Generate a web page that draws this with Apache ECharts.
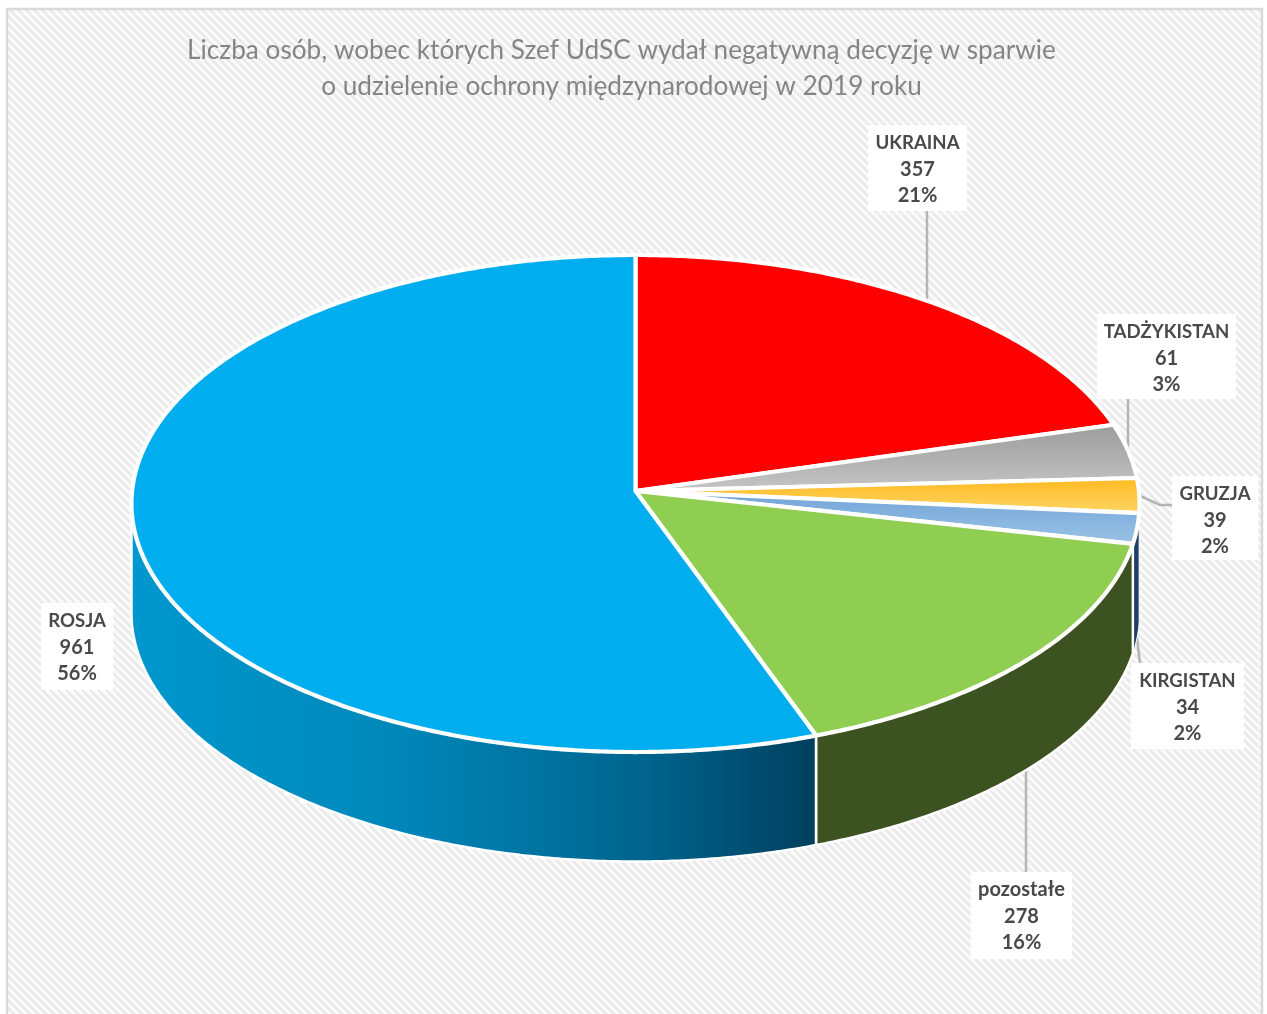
<!DOCTYPE html>
<html><head><meta charset="utf-8">
<style>html,body{margin:0;padding:0;background:#fff}#c{width:1267px;height:1014px}</style>
<script src="https://cdn.jsdelivr.net/npm/echarts@6/dist/echarts.min.js"></script>
</head><body><div id="c"></div>
<script>
// ---- data
const categories = ['UKRAINA','TADŻYKISTAN','GRUZJA','KIRGISTAN','pozostałe','ROSJA'];
const values     = [357, 61, 39, 34, 278, 961];
const percents   = ['21%','3%','2%','2%','16%','56%'];
const titleLines = ['Liczba osób, wobec których Szef UdSC wydał negatywną decyzję w sparwie',
                    'o udzielenie ochrony międzynarodowej w 2019 roku'];

// ---- styling / layout
const faceFills = [
  '#FF0000',
  ['#9B9B9B','#C6C6C6'],
  ['#FFB81C','#FFD768'],
  ['#6FA3D8','#9DC3E6'],
  '#8FCE50',
  '#00AEEF'
];
const wallFills = [null,null,null,'#1F3F66','#3C5220',
  {stops:[[0,'#0098CE'],[0.4,'#0086B8'],[0.75,'#00648D'],[1,'#003F5E']]}];
const labelBoxes = [[868,125,99,86],[1097,314,139,85],[1172,476,86,84],[1131,663,113,86],[971,872,101,87],[41,603,72,87]];
const leaders = [
  {x:927,path:[[927,211]]},
  {x:1128,path:[[1128,399]]},
  {path:[[1160,505],[1172,505]]},
  {onWall:true,path:[[1140,663]]},
  {x:1026,onWall:true,path:[[1026,872]]},
  null
];
const P = {cx:635.5, cy:491, a:247.9, b:503.4, k:0.0503, depth:109.5};

const total = values.reduce((s,v)=>s+v,0);
function rim(deg){
  const t=deg*Math.PI/180, u=Math.sin(t), v=Math.cos(t), w=1+P.k*v;
  return [P.cx+P.b*u/w, P.cy-P.a*v/w];
}
function arc(from,to){
  const n=Math.max(2,Math.ceil(Math.abs(to-from)*2)), pts=[];
  for(let i=0;i<=n;i++) pts.push(rim(from+(to-from)*i/n));
  return pts;
}
function paint(f){
  if(typeof f==='string') return f;
  if(Array.isArray(f)) return {type:'linear',x:0,y:0,x2:0,y2:1,colorStops:[{offset:0,color:f[0]},{offset:1,color:f[1]}]};
  return {type:'linear',x:0,y:0,x2:1,y2:0,colorStops:f.stops.map(s=>({offset:s[0],color:s[1]}))};
}
const tangentR = 90+Math.asin(P.k)*180/Math.PI, tangentL = 270-Math.asin(P.k)*180/Math.PI;

function renderItem(params,api){
  const i=params.dataIndex, val=api.value(0);
  let before=0; for(let j=0;j<i;j++) before+=values[j];
  const a0=before/total*360, a1=(before+val)/total*360, mid=(a0+a1)/2;
  const children=[];
  const L=leaders[i];
  if(L){
    const r=rim(mid);
    const start=[L.x!==undefined?L.x:r[0], r[1]+(L.onWall?P.depth:0)];
    children.push({type:'polyline',shape:{points:[start].concat(L.path)},
      style:{stroke:'#B4B4B4',lineWidth:2.5,fill:null},z2:1});
  }
  if(wallFills[i]){
    const from=Math.max(a0,tangentR), to=Math.min(a1,tangentL);
    const top=arc(from,to), bot=top.slice().reverse().map(p=>[p[0],p[1]+P.depth]);
    children.push({type:'polygon',shape:{points:top.concat(bot)},
      style:{fill:paint(wallFills[i]),stroke:'#fff',lineWidth:i===3?1:2.5,lineJoin:'round'},z2:2});
  }
  children.push({type:'polygon',shape:{points:[[P.cx,P.cy]].concat(arc(a0,a1))},
    style:{fill:paint(faceFills[i]),stroke:'#fff',lineWidth:4.2,lineJoin:'round'},z2:3});
  const B=labelBoxes[i];
  children.push({type:'rect',shape:{x:B[0],y:B[1],width:B[2],height:B[3]},style:{fill:'#fff'},z2:4});
  [categories[i],String(val),percents[i]].forEach((s,n)=>{
    const caps = n===0 && s===s.toUpperCase();
    children.push({type:'text',z2:5,style:{text:s,x:B[0]+B[2]/2,y:B[1]+18+n*26.5,
      align:'center',verticalAlign:'middle',fill:'#494949',
      font:'bold '+(caps?18.6:20)+'px Lato, "Noto Sans", sans-serif'}});
  });
  return {type:'group',children};
}

const tile=document.createElement('canvas'); tile.width=8; tile.height=8;
(function(){
  const g=tile.getContext('2d');
  g.fillStyle='#FBFBFB'; g.fillRect(0,0,8,8);
  g.strokeStyle='#E9E9E9'; g.lineWidth=2.5;
  [[-8,-8,8,8],[-8,0,8,16],[0,-8,16,8],[-16,-8,8,16],[-8,-16,16,8]].forEach(s=>{
    g.beginPath(); g.moveTo(s[0],s[1]); g.lineTo(s[2],s[3]); g.stroke();
  });
})();

const chart=echarts.init(document.getElementById('c'),null,{renderer:'canvas',width:1267,height:1014});
chart.setOption({
  animation:false,
  backgroundColor:'#fff',
  graphic:[{type:'rect',z:-10,silent:true,shape:{x:7,y:9,width:1255,height:1020},
    style:{fill:{image:tile,repeat:'repeat'},stroke:'#D9D9D9',lineWidth:2.5}}],
  title:{left:616.5,top:28,textAlign:'center',text:titleLines.join('\n'),
    textStyle:{fontFamily:'Lato, "Noto Sans", sans-serif',fontWeight:'normal',fontSize:26.2,lineHeight:36,color:'#858585'}},
  series:[{type:'custom',coordinateSystem:'none',renderItem,silent:true,z:2,
    data:values.map(v=>[v])}]
});
</script></body></html>
